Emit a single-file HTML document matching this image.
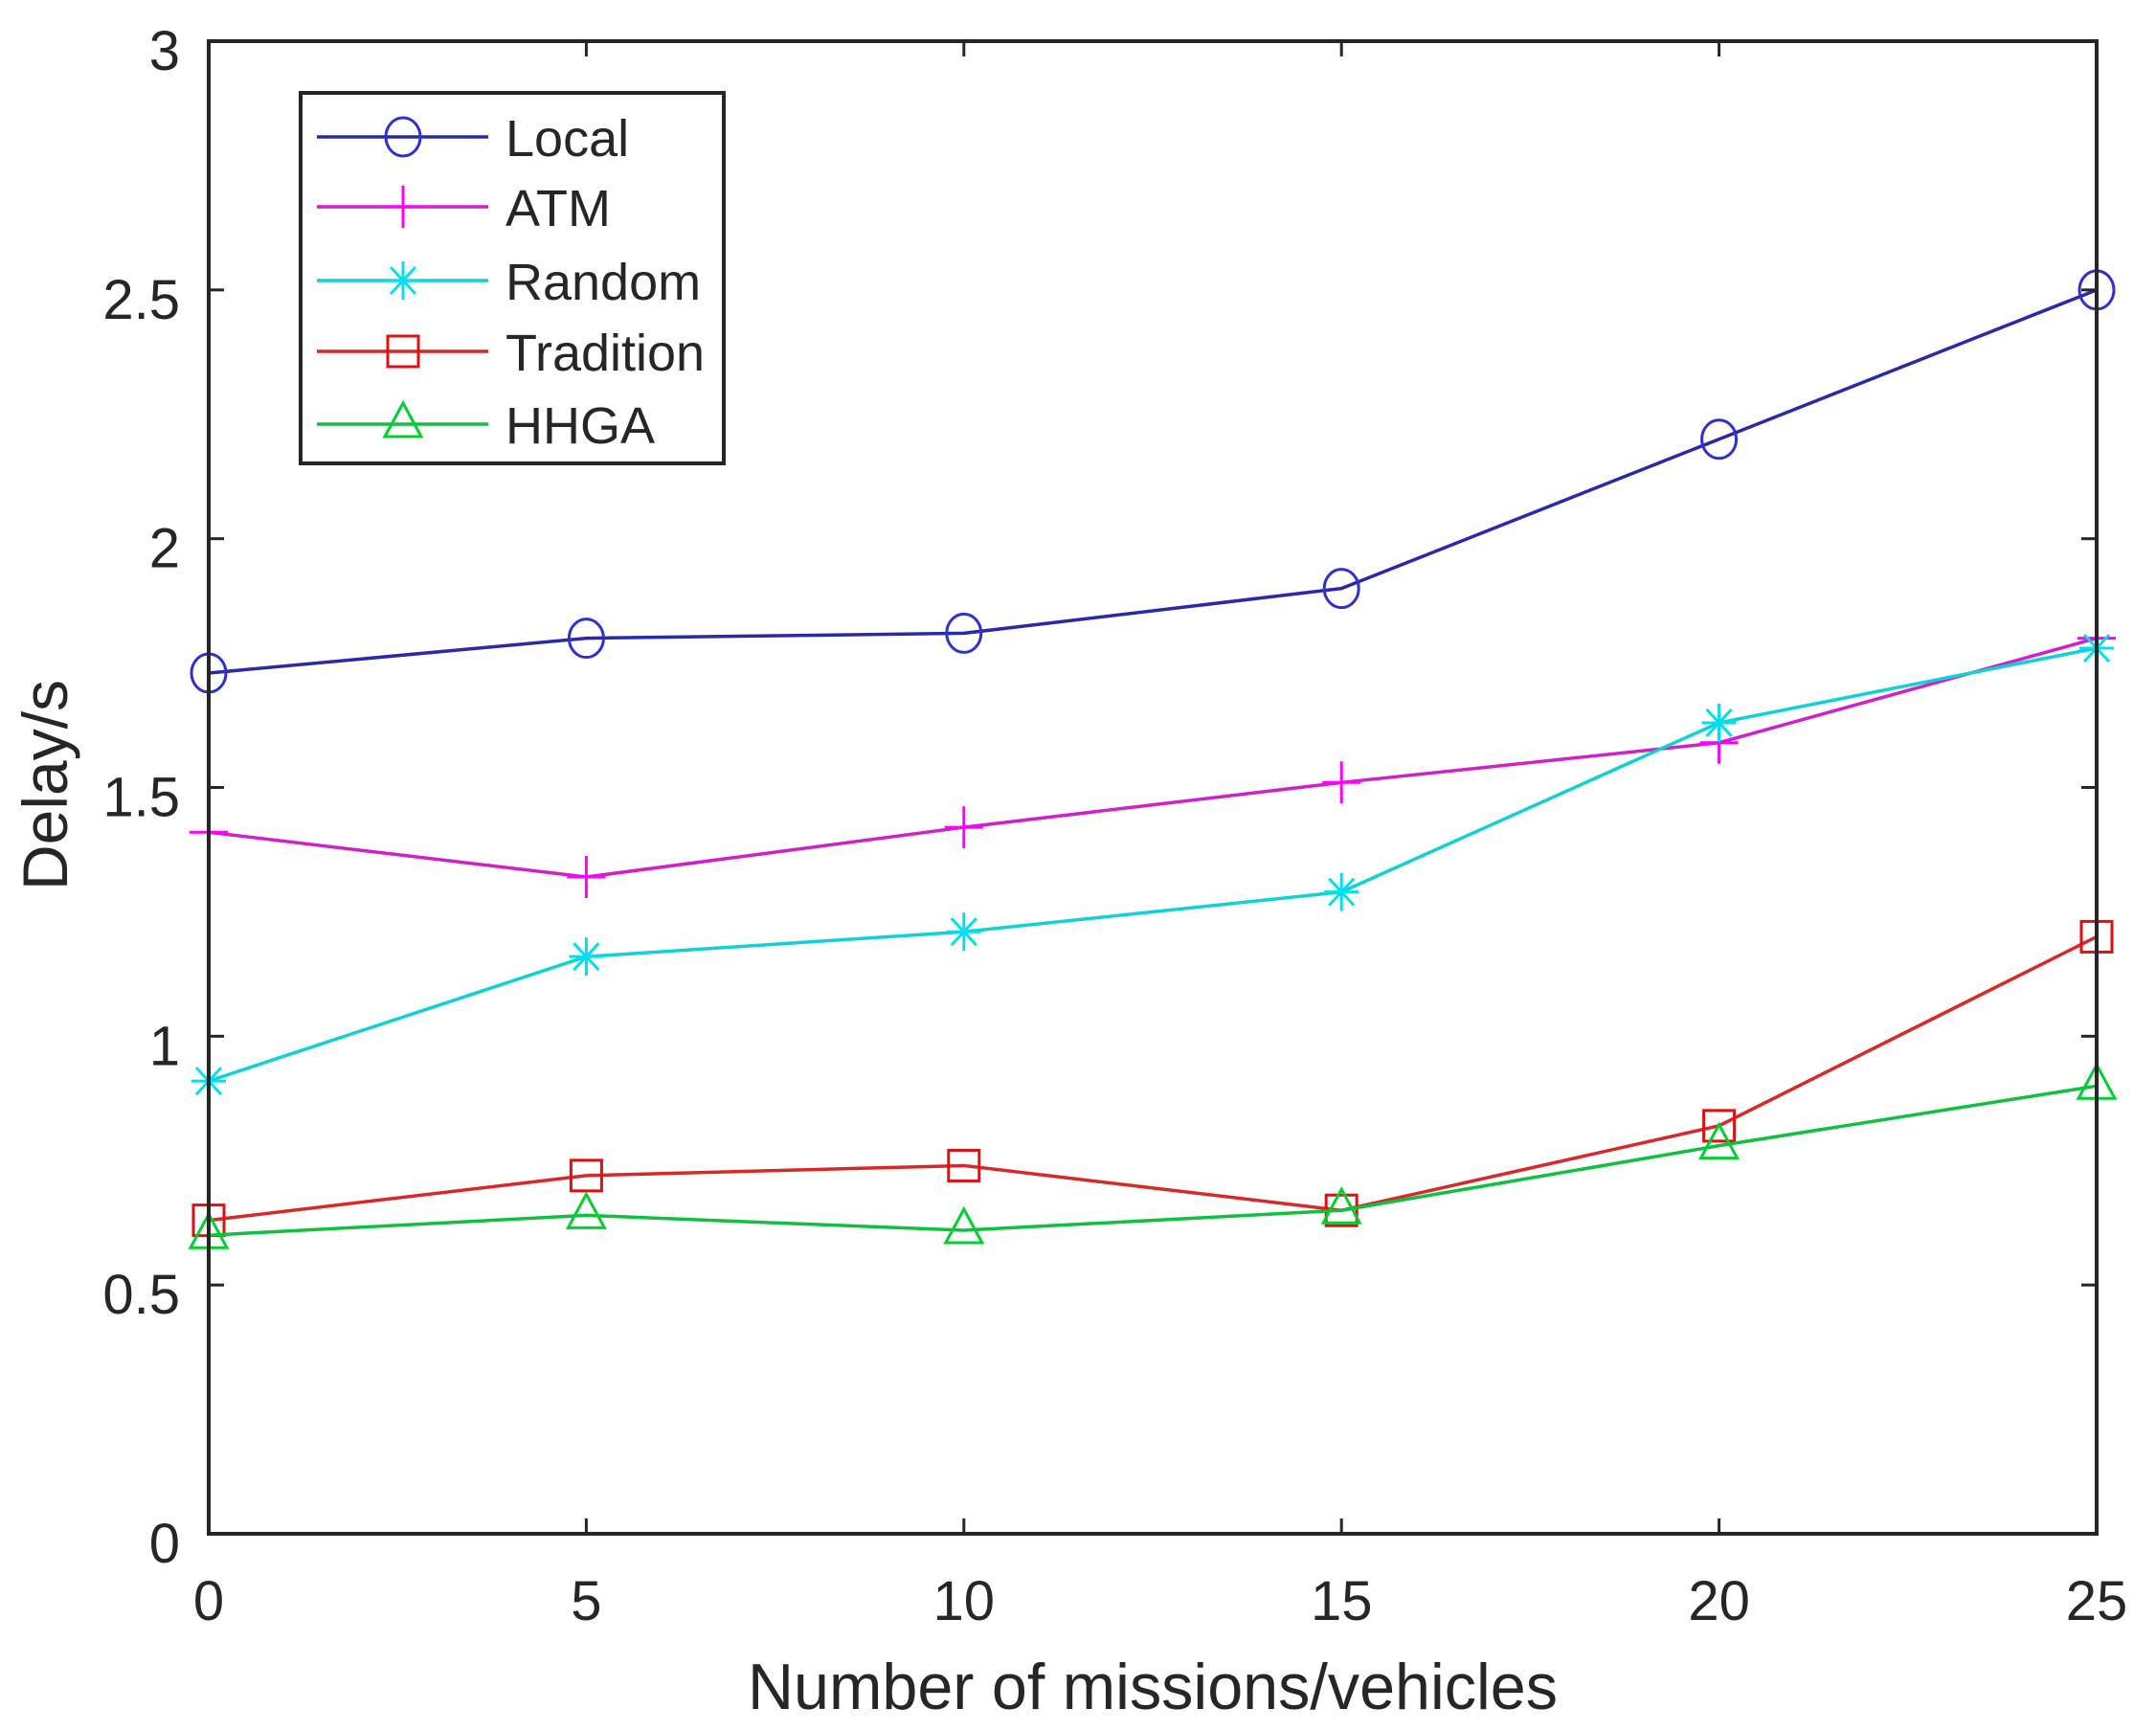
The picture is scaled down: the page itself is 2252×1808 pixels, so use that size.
<!DOCTYPE html>
<html><head><meta charset="utf-8"><style>
html,body{margin:0;padding:0;background:#fff}
svg{display:block}
text{font-family:"Liberation Sans",Arial,sans-serif;fill:#262626}
</style></head><body>
<svg id="chart" width="2252" height="1808" viewBox="0 0 2252 1808" xmlns="http://www.w3.org/2000/svg">
<rect width="2252" height="1808" fill="#fff"/>
<g id="series"></g>
<g id="axes"></g>
<g id="legend"></g>
</svg>
<script>
const categories = [0, 5, 10, 15, 20, 25];
const localVals = [1.73, 1.80, 1.81, 1.90, 2.20, 2.50];
const atmVals = [1.41, 1.32, 1.42, 1.51, 1.59, 1.80];
const randomVals = [0.91, 1.16, 1.21, 1.29, 1.63, 1.78];
const traditionVals = [0.63, 0.72, 0.74, 0.65, 0.82, 1.20];
const hhgaVals = [0.60, 0.64, 0.61, 0.65, 0.78, 0.90];
const xTicks = [0, 5, 10, 15, 20, 25];
const yTicks = [0, 0.5, 1, 1.5, 2, 2.5, 3];
const yTickLabels = ["0", "0.5", "1", "1.5", "2", "2.5", "3"];
const seriesNames = ["Local", "ATM", "Random", "Tradition", "HHGA"];

const NS = "http://www.w3.org/2000/svg";
const L = 218, R = 2190, T = 43, B = 1602;
const xMin = 0, xMax = 25, yMin = 0, yMax = 3;
function sx(v){ return L + (v - xMin) / (xMax - xMin) * (R - L); }
function sy(v){ return B - (v - yMin) / (yMax - yMin) * (B - T); }
function mk(tag, attrs, parent){
  const e = document.createElementNS(NS, tag);
  for (const k in attrs) e.setAttribute(k, attrs[k]);
  parent.appendChild(e);
  return e;
}
const gS = document.getElementById("series");
const gA = document.getElementById("axes");
const gL = document.getElementById("legend");

const styles = [
  {vals: localVals, line: "#2a2aa8", mark: "#3030d0", m: "circle"},
  {vals: atmVals, line: "#d020c8", mark: "#ff00ff", m: "plus"},
  {vals: randomVals, line: "#10d0d8", mark: "#00e0f0", m: "star"},
  {vals: traditionVals, line: "#d82828", mark: "#e01010", m: "square"},
  {vals: hhgaVals, line: "#10c040", mark: "#00d030", m: "triangle"}
];

function marker(type, x, y, color, parent){
  const a = {fill: "none", stroke: color, "stroke-width": 3};
  let e;
  if (type === "circle") e = mk("ellipse", Object.assign({cx: x, cy: y, rx: 18, ry: 20}, a), parent);
  else if (type === "square") e = mk("rect", Object.assign({x: x - 16, y: y - 16, width: 32, height: 32}, a), parent);
  else if (type === "triangle") e = mk("path", Object.assign({d: `M${x},${y-22} L${x+19},${y+13} L${x-19},${y+13} Z`}, a), parent);
  else if (type === "plus") e = mk("path", Object.assign({d: `M${x-20},${y} H${x+20} M${x},${y-22} V${y+22}`}, a), parent);
  else e = mk("path", Object.assign({d: `M${x-18},${y} H${x+18} M${x},${y-20} V${y+20} M${x-13},${y-14} L${x+13},${y+14} M${x-13},${y+14} L${x+13},${y-14}`}, a), parent);
  return e;
}

styles.forEach((s, i) => {
  const g = mk("g", {}, gS);
  
  
  const pts = categories.map((c, j) => sx(c) + "," + sy(s.vals[j])).join(" ");
  const pl = mk("polyline", {points: pts, fill: "none", stroke: s.line, "stroke-width": 3.5}, g);
  
  
  categories.forEach((c, j) => {
    const m = marker(s.m, sx(c), sy(s.vals[j]), s.mark, g);
    
    
  });
});

// axes box
const box = mk("rect", {x: L, y: T, width: R - L, height: B - T, fill: "none", stroke: "#262626", "stroke-width": 4}, gA);


xTicks.forEach(v => {
  const x = sx(v);
  mk("line", {x1: x, y1: B, x2: x, y2: B - 16, stroke: "#262626", "stroke-width": 3}, gA);
  mk("line", {x1: x, y1: T, x2: x, y2: T + 16, stroke: "#262626", "stroke-width": 3}, gA);
  const t = mk("text", {x: x, y: 1692, "font-size": 58, "text-anchor": "middle"}, gA);
  t.textContent = String(v);
  
  
});
yTicks.forEach((v, i) => {
  const y = sy(v);
  mk("line", {x1: L, y1: y, x2: L + 16, y2: y, stroke: "#262626", "stroke-width": 3}, gA);
  mk("line", {x1: R, y1: y, x2: R - 16, y2: y, stroke: "#262626", "stroke-width": 3}, gA);
  const t = mk("text", {x: 188, y: y + 30, "font-size": 58, "text-anchor": "end"}, gA);
  t.textContent = yTickLabels[i];
  
  
});
const xt = mk("text", {x: 1204, y: 1785, "font-size": 68, "text-anchor": "middle", textLength: 846, lengthAdjust: "spacingAndGlyphs"}, gA);
xt.textContent = "Number of missions/vehicles";


const yt = mk("text", {x: 0, y: 0, "font-size": 66, "text-anchor": "middle", transform: "translate(70,820) rotate(-90)", textLength: 220, lengthAdjust: "spacingAndGlyphs"}, gA);
yt.textContent = "Delay/s";



// legend
const lb = mk("rect", {x: 314, y: 97, width: 442, height: 387, fill: "#fff", stroke: "#262626", "stroke-width": 4}, gL);


const rowY = [143, 216, 293, 367, 443];
styles.forEach((s, i) => {
  const g = mk("g", {}, gL);
  
  
  mk("line", {x1: 331, y1: rowY[i], x2: 510, y2: rowY[i], stroke: s.line, "stroke-width": 3.5}, g);
  marker(s.m, 421, rowY[i], s.mark, g);
  const t = mk("text", {x: 528, y: rowY[i] + 20, "font-size": 54}, g);
  t.textContent = seriesNames[i];
});
</script>
</body></html>
